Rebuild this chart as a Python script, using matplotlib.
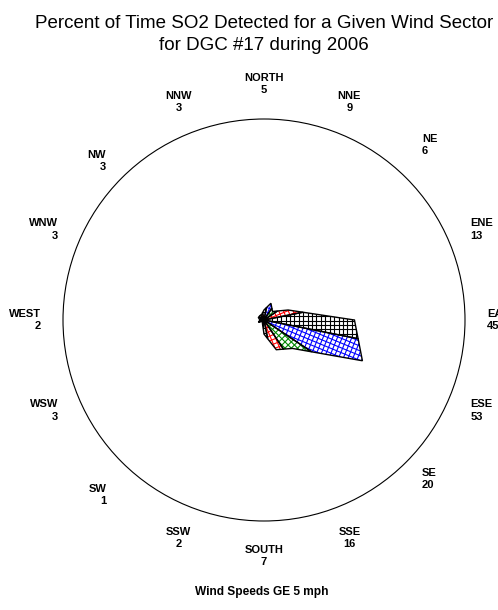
import numpy as np
import matplotlib
matplotlib.use('Agg')
import matplotlib.pyplot as plt
from matplotlib.patches import Polygon, Circle
from matplotlib.collections import LineCollection

plt.rcParams['font.family'] = ['Liberation Sans', 'DejaVu Sans']

# wind sectors, clockwise from north
sectors = ['NORTH', 'NNE', 'NE', 'ENE', 'EAST', 'ESE', 'SE', 'SSE',
           'SOUTH', 'SSW', 'SW', 'WSW', 'WEST', 'WNW', 'NW', 'NNW']
percent = [5, 9, 6, 13, 45, 53, 20, 16, 7, 2, 1, 3, 2, 3, 3, 3]
slice_colors = ['#000000', '#0000ff', '#008800', '#ff0000']

title_lines = ['Percent of Time SO2 Detected for a Given Wind Sector',
               'for DGC #17 during 2006']
footnote = 'Wind Speeds GE 5 mph'

W, H = 498, 610
cx, cy = 264, 320      # pixel position of the rose centre
scale = 2.01           # pixels per percent (outer circle = 100 %)

fig = plt.figure(figsize=(W / 100, H / 100), dpi=100)
ax = fig.add_axes([0, 0, 1, 1])
ax.set_xlim(-cx / scale, (W - cx) / scale)
ax.set_ylim(-(H - cy) / scale, cy / scale)
ax.set_aspect('equal')
ax.axis('off')

ax.add_patch(Circle((0, 0), 100, fill=False, ec='black', lw=0.8))

n = len(sectors)
theta = np.deg2rad(np.arange(n) * 360.0 / n)
half = np.deg2rad(180.0 / n)
r = np.array(percent, dtype=float)
tips = np.column_stack([r * np.sin(theta), r * np.cos(theta)])


def cross(u, v):
    return u[0] * v[1] - u[1] * v[0]


def cut(pa, pb, phi):
    # where the ray at compass angle phi crosses the segment pa-pb
    d = np.array([np.sin(phi), np.cos(phi)])
    e = pb - pa
    t = -cross(d, pa) / cross(d, e)
    return pa + t * e


def grid_segments(ang, step, R):
    c, s = np.cos(ang), np.sin(ang)
    segs = []
    for k in np.arange(-R, R + step, step):
        segs.append([(-k * s - R * c, k * c - R * s), (-k * s + R * c, k * c + R * s)])
        segs.append([(k * c + R * s, k * s - R * c), (k * c - R * s, k * s + R * c)])
    return segs


for i in range(n):
    prev_tip = tips[i - 1]
    next_tip = tips[(i + 1) % n]
    m1 = cut(prev_tip, tips[i], theta[i] - half)
    m2 = cut(tips[i], next_tip, theta[i] + half)
    verts = np.array([[0, 0], m1, tips[i], m2])
    col = slice_colors[i % len(slice_colors)]

    clip = Polygon(verts, closed=True, fc='none', ec='none')
    ax.add_patch(clip)
    lc = LineCollection(grid_segments(np.pi / 2 - theta[i], 2.2, r.max() * 1.5),
                        colors=col, linewidths=0.8)
    ax.add_collection(lc)
    lc.set_clip_path(clip)
    ax.add_patch(Polygon(verts, closed=True, fc='none', ec='black', lw=1.0, zorder=3))

# sector labels round the circle
for i, name in enumerate(sectors):
    sx, sy = np.sin(theta[i]), np.cos(theta[i])
    if abs(sx) < 0.5:
        ha = 'center'
    elif sx > 0:
        ha = 'left'
    else:
        ha = 'right'
    # the diagonal labels sit a little higher on the east side than on the west
    dy = 0
    if abs(abs(sx) - abs(sy)) < 0.1:
        dy = 4 if sx > 0 else -4
    ax.text(111 * sx, 117.4 * sy + dy, f'{name}\n{percent[i]}', ha=ha, va='center',
            multialignment=ha, fontsize=8, fontweight='bold', linespacing=1.3)

fig.text(cx / W, 1 - 28 / H, title_lines[0], ha='center', va='baseline', fontsize=13.5)
fig.text(cx / W, 1 - 50 / H, title_lines[1], ha='center', va='baseline', fontsize=13.5)
fig.text(262 / W, 1 - 595 / H, footnote, ha='center', va='baseline', fontsize=8.6, fontweight='bold')

fig.savefig('out.png', dpi=100)
